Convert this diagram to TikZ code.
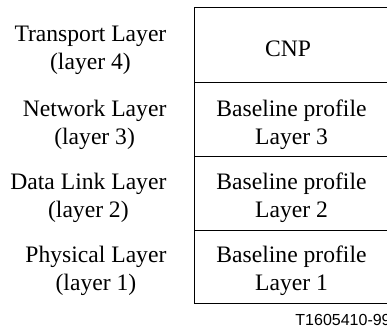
\documentclass[tikz,border=0pt]{standalone}
\usepackage{fontspec}
\setmainfont{Liberation Serif}
\newfontfamily\figfont{Liberation Sans}
\usetikzlibrary{positioning}

\begin{document}
\begin{tikzpicture}[x=1pt, y=-1pt, line width=0.9pt,
        font=\fontsize{23.6}{28}\selectfont,
        layername/.style={anchor=east, align=center, inner sep=0pt},
        cellname/.style={align=center, inner sep=0pt}]
        \useasboundingbox (0,0) rectangle (387,329);

        % Points
        \coordinate (top) at (194.3,7.5);
        \coordinate (bottom) at (194.3,303.5);
        \coordinate (topend) at (392,7.5);
        \coordinate (cutA) at (194.3,82);
        \coordinate (cutAend) at (392,82);
        \coordinate (cutB) at (194.3,156);
        \coordinate (cutBend) at (392,156);
        \coordinate (cutC) at (194.3,230);
        \coordinate (cutCend) at (392,230);
        \coordinate (bottomend) at (392,303.5);

        % Stack
        \draw (top) -- (bottom);
        \draw (top) -- (topend);
        \draw (cutA) -- (cutAend);
        \draw (cutB) -- (cutBend);
        \draw (cutC) -- (cutCend);
        \draw (bottom) -- (bottomend);

        % Layer labels
        \node[layername] (transport) at (166.8,50.8) {Transport Layer\\(layer 4)};
        \node[layername] (network) at (166.8,124.5) {Network Layer\\(layer 3)};
        \node[layername] (datalink) at (166.8,198) {Data Link Layer\\(layer 2)};
        \node[layername] (physical) at (166.8,271) {Physical Layer\\(layer 1)};

        % Cell labels
        \node[cellname] (cnp) at (288,49.2) {CNP};
        \node[cellname] (base3) at (291.5,124.5) {Baseline profile\\Layer 3};
        \node[cellname] (base2) at (291.5,198) {Baseline profile\\Layer 2};
        \node[cellname] (base1) at (291.5,271) {Baseline profile\\Layer 1};

        \node[anchor=base west, inner sep=0pt, font=\figfont\fontsize{16}{19}\selectfont] (tag) at (295,325) {T1605410-99};

    \end{tikzpicture}
\end{document}
